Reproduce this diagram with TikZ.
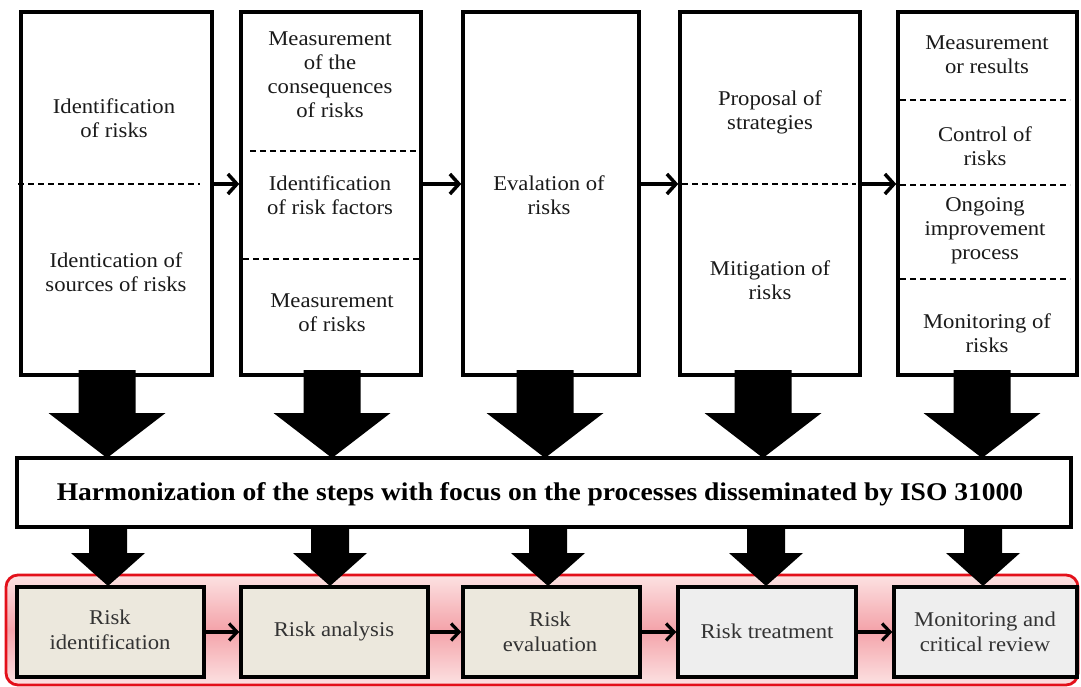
\documentclass[tikz,border=0pt]{standalone}
\usepackage{fontspec}
\setmainfont{Liberation Serif}[FakeStretch=1.08]
\usetikzlibrary{arrows.meta,calc}
\definecolor{beige}{HTML}{ECE8DD}
\definecolor{lightgray}{HTML}{EEEEEE}
\definecolor{txt}{HTML}{1A1A1A}
\definecolor{txtsoft}{HTML}{333333}
\definecolor{pinklight}{HTML}{FCE2E2}
\definecolor{pinkdeep}{HTML}{F4A3AA}
\definecolor{frame}{HTML}{E3101A}
\tikzset{
  stage/.style={draw=black, line width=3.5pt, fill=white, rectangle, inner sep=0pt},
  proc/.style={draw=black, line width=3.5pt, rectangle, inner sep=0pt, minimum height=90pt},
  lbl/.style={font=\fontsize{21}{24}\selectfont, align=center, text=txt, inner sep=0pt},
  plbl/.style={font=\fontsize{21}{25}\selectfont, align=center, text=txtsoft, inner sep=0pt},
  sep/.style={line width=1.4pt, dash pattern=on 6pt off 4pt},
  flow/.style={line width=3.5pt, -{Straight Barb[length=9pt,width=20pt,line width=3.5pt]}},
  smallflow/.style={line width=3.5pt, -{Straight Barb[length=8pt,width=17pt,line width=3.2pt]}},
  block/.style={fill=black, draw=none}
}
% block arrow: centre x, shaft top, head start, tip, shaft half width, head half width
\newcommand{\blockarrow}[6]{%
  \fill[block] (#1-#5,#2) -- (#1+#5,#2) -- (#1+#5,#3) -- (#1+#6,#3) -- (#1,#4)
    -- (#1-#6,#3) -- (#1-#5,#3) -- cycle;}
\begin{document}
\begin{tikzpicture}[x=1pt,y=-1pt]
\useasboundingbox (0,0) rectangle (1081,687);

% ---- process band at the bottom
\shade[top color=pinklight, bottom color=pinklight, middle color=pinkdeep, draw=frame, line width=2.8pt, rounded corners=12pt]
  (6,575) rectangle (1078,685);

% ---- upper stage boxes
\node[stage, minimum width=191pt, minimum height=363pt] (s1) at (116.5,193.5) {};
\node[stage, minimum width=180pt, minimum height=363pt] (s2) at (331,193.5) {};
\node[stage, minimum width=176pt, minimum height=363pt] (s3) at (551,193.5) {};
\node[stage, minimum width=180pt, minimum height=363pt] (s4) at (770,193.5) {};
\node[stage, minimum width=179pt, minimum height=363pt] (s5) at (987.5,193.5) {};

% dashed separators inside the boxes
\draw[sep] (18,184) -- (200,184);
\draw[sep] (250,151) -- (418,151);
\draw[sep] (243,259) -- (422,259);
\draw[sep] (682,184) -- (856,184);
\draw[sep] (900,100) -- (1070,100);
\draw[sep] (900,185) -- (1070,185);
\draw[sep] (900,279) -- (1070,279);

% texts of the stage boxes
\node[lbl] (t11) at (114,118) {Identification\\of risks};
\node[lbl] (t12) at (116,272) {Identication of\\sources of risks};
\node[lbl] (t21) at (330,75) {Measurement\\of the\\consequences\\of risks};
\node[lbl] (t22) at (330,195) {Identification\\of risk factors};
\node[lbl] (t23) at (332,313) {Measurement\\of risks};
\node[lbl] (t31) at (549,195) {Evalation of\\risks};
\node[lbl] (t41) at (770,112) {Proposal of\\strategies};
\node[lbl] (t42) at (770,280) {Mitigation of\\risks};
\node[lbl] (t51) at (987,55) {Measurement\\or results};
\node[lbl] (t52) at (985,146) {Control of\\risks};
\node[lbl] (t53) at (985,231) {Ongoing\\improvement\\process};
\node[lbl] (t54) at (987,333) {Monitoring of\\risks};

% flow between stage boxes
\coordinate (c1) at (s1.east |- 0,184);
\coordinate (c2) at (s2.east |- 0,184);
\coordinate (c3) at (s3.east |- 0,184);
\coordinate (c4) at (s4.east |- 0,184);
\draw[flow] (c1) -- (s2.west |- c1);
\draw[flow] (c2) -- (s3.west |- c2);
\draw[flow] (c3) -- (s4.west |- c3);
\draw[flow] (c4) -- (s5.west |- c4);

% ---- big arrows into the harmonization bar
\blockarrow{107}{370}{413}{458}{28.5}{58.5}
\blockarrow{332}{370}{413}{458}{28.5}{58.5}
\blockarrow{545}{370}{413}{458}{28.5}{58.5}
\blockarrow{763}{370}{413}{458}{28.5}{58.5}
\blockarrow{982}{370}{413}{458}{28.5}{58.5}

% ---- harmonization bar
\node[stage, minimum width=1054pt, minimum height=69pt] (h) at (544,492.5) {};
\node[font=\bfseries\fontsize{25.5}{30}\selectfont, text=black, inner sep=0pt] (ht) at (540,494)
  {Harmonization of the steps with focus on the processes disseminated by ISO 31000};

% ---- arrows into the ISO 31000 processes
\blockarrow{108}{526}{553}{586}{19}{37}
\blockarrow{330}{526}{553}{586}{19}{37}
\blockarrow{548}{526}{553}{586}{19}{37}
\blockarrow{766}{526}{553}{586}{19}{37}
\blockarrow{983}{526}{553}{586}{19}{37}

% ---- ISO 31000 processes
\node[proc, fill=beige, minimum width=187pt] (p1) at (110.5,632) {};
\node[proc, fill=beige, minimum width=187pt] (p2) at (334.5,632) {};
\node[proc, fill=beige, minimum width=177pt] (p3) at (551.5,632) {};
\node[proc, fill=lightgray, minimum width=178pt] (p4) at (767,632) {};
\node[proc, fill=lightgray, minimum width=183pt] (p5) at (985.5,632) {};

\node[plbl] at (110,630) {Risk\\identification};
\node[plbl] at (334,631) {Risk analysis};
\node[plbl] at (550,632) {Risk\\evaluation};
\node[plbl] at (767,631) {Risk treatment};
\node[plbl] at (985,632) {Monitoring and\\critical review};

\draw[smallflow] (p1) -- (p2);
\draw[smallflow] (p2) -- (p3);
\draw[smallflow] (p3) -- (p4);
\draw[smallflow] (p4) -- (p5);
\end{tikzpicture}
\end{document}
